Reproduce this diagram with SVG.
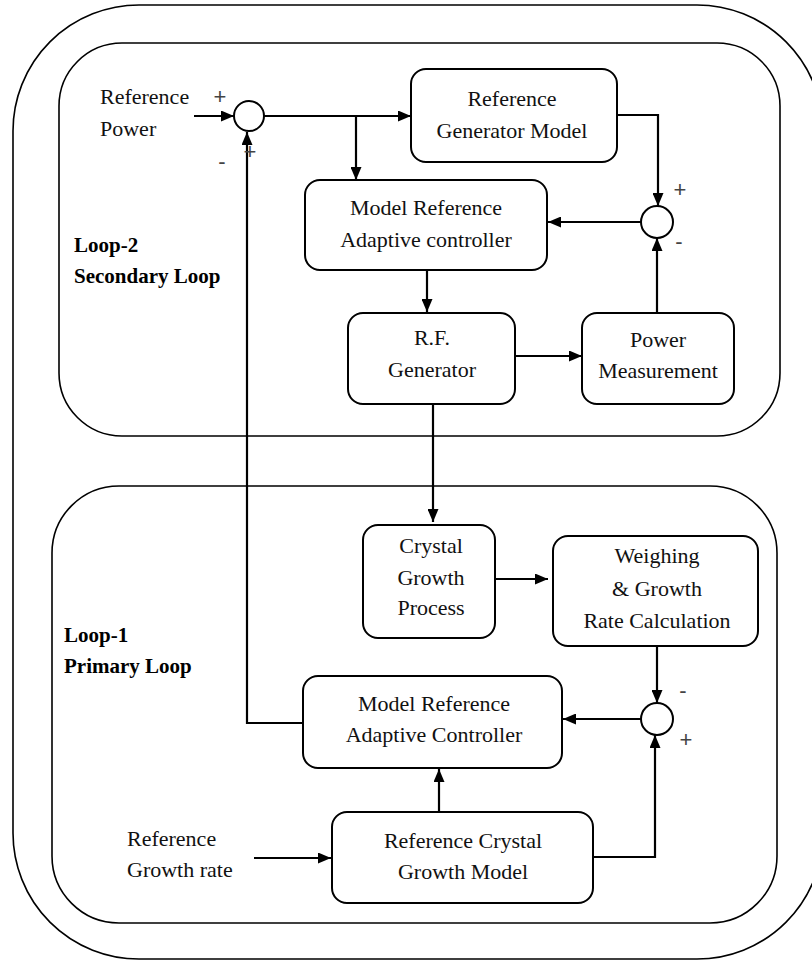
<svg xmlns="http://www.w3.org/2000/svg" width="812" height="961" viewBox="0 0 812 961">
  <style>
    .frame { fill: none; stroke: #000; stroke-width: 1.6; }
    .box { fill: #fff; stroke: #000; stroke-width: 2; }
    .sum { fill: #fff; stroke: #000; stroke-width: 2; }
    .wire { fill: none; stroke: #000; stroke-width: 2.2; }
    .lbl { font-family: "Liberation Serif", "Times New Roman", serif; font-size: 22px; fill: #111; }
    .mid { text-anchor: middle; }
    .loop { font-family: "Liberation Serif", "Times New Roman", serif; font-size: 21px; font-weight: bold; fill: #000; }
    .sign { font-family: "Liberation Sans", Arial, sans-serif; font-size: 22px; fill: #444444; text-anchor: middle; }
  </style>
  <defs>
    <marker id="arrow" markerUnits="userSpaceOnUse" markerWidth="13" markerHeight="11" refX="13" refY="5.5" orient="auto">
      <path d="M0,0 L13,5.5 L0,11 z" fill="#000"/>
    </marker>
  </defs>

  <rect width="812" height="961" fill="#fff"/>

  <!-- enclosing frames -->
  <g id="outer-frame">
    <rect class="frame" x="13" y="5" width="810" height="954" rx="126" ry="126"/>
  </g>
  <g id="secondary-loop">
    <rect class="frame" x="59" y="43" width="721" height="393" rx="63" ry="63"/>
    <text class="loop" x="74" y="252">Loop-2</text>
    <text class="loop" x="74" y="283">Secondary Loop</text>
  </g>
  <g id="primary-loop">
    <rect class="frame" x="52" y="486" width="725" height="437" rx="67" ry="67"/>
    <text class="loop" x="64" y="642">Loop-1</text>
    <text class="loop" x="64" y="673">Primary Loop</text>
  </g>

  <!-- connectors -->
  <g id="connectors">
    <line class="wire" x1="194" y1="116" x2="234" y2="116" marker-end="url(#arrow)"/>
    <line class="wire" x1="264" y1="116" x2="411" y2="116" marker-end="url(#arrow)"/>
    <line class="wire" x1="356" y1="116" x2="356" y2="180" marker-end="url(#arrow)"/>
    <polyline class="wire" points="617,115 658,115 658,206" marker-end="url(#arrow)"/>
    <line class="wire" x1="641" y1="222" x2="548" y2="222" marker-end="url(#arrow)"/>
    <line class="wire" x1="657" y1="313" x2="657" y2="238" marker-end="url(#arrow)"/>
    <line class="wire" x1="427" y1="270" x2="427" y2="312" marker-end="url(#arrow)"/>
    <line class="wire" x1="515" y1="356" x2="582" y2="356" marker-end="url(#arrow)"/>
    <line class="wire" x1="433" y1="404" x2="433" y2="522" marker-end="url(#arrow)"/>
    <line class="wire" x1="495" y1="579" x2="548" y2="579" marker-end="url(#arrow)"/>
    <line class="wire" x1="657" y1="646" x2="657" y2="703" marker-end="url(#arrow)"/>
    <line class="wire" x1="641" y1="719" x2="563" y2="719" marker-end="url(#arrow)"/>
    <polyline class="wire" points="593,857 655,857 655,735" marker-end="url(#arrow)"/>
    <line class="wire" x1="439" y1="812" x2="439" y2="769" marker-end="url(#arrow)"/>
    <line class="wire" x1="254" y1="858" x2="331" y2="858" marker-end="url(#arrow)"/>
    <polyline class="wire" points="303,723 247,723 247,132" marker-end="url(#arrow)"/>
  </g>

  <!-- summing junctions -->
  <g id="sum-power">
    <circle class="sum" cx="249" cy="116" r="15"/>
    <text class="sign" x="220" y="104">+</text>
    <text class="sign" x="222" y="169">-</text>
    <text class="sign" x="250" y="159">+</text>
  </g>
  <g id="sum-model">
    <circle class="sum" cx="657" cy="222" r="16"/>
    <text class="sign" x="680" y="197">+</text>
    <text class="sign" x="679" y="249">-</text>
  </g>
  <g id="sum-growth">
    <circle class="sum" cx="657" cy="719" r="16"/>
    <text class="sign" x="683" y="698">-</text>
    <text class="sign" x="686" y="747">+</text>
  </g>

  <!-- inputs -->
  <g id="input-power">
    <text class="lbl" x="100" y="104">Reference</text>
    <text class="lbl" x="100" y="136">Power</text>
  </g>
  <g id="input-growth">
    <text class="lbl" x="127" y="846">Reference</text>
    <text class="lbl" x="127" y="877">Growth rate</text>
  </g>

  <!-- blocks -->
  <g id="ref-generator-model">
    <rect class="box" x="411" y="69" width="206" height="93" rx="15"/>
    <text class="lbl mid" x="512" y="106">Reference</text>
    <text class="lbl mid" x="512" y="138">Generator Model</text>
  </g>
  <g id="mrac-power">
    <rect class="box" x="305" y="180" width="242" height="90" rx="15"/>
    <text class="lbl mid" x="426" y="215">Model Reference</text>
    <text class="lbl mid" x="426" y="247">Adaptive controller</text>
  </g>
  <g id="rf-generator">
    <rect class="box" x="348" y="313" width="167" height="91" rx="15"/>
    <text class="lbl mid" x="432" y="345">R.F.</text>
    <text class="lbl mid" x="432" y="377">Generator</text>
  </g>
  <g id="power-measurement">
    <rect class="box" x="582" y="313" width="152" height="91" rx="15"/>
    <text class="lbl mid" x="658" y="347">Power</text>
    <text class="lbl mid" x="658" y="378">Measurement</text>
  </g>
  <g id="crystal-growth-process">
    <rect class="box" x="363" y="525" width="132" height="113" rx="15"/>
    <text class="lbl mid" x="431" y="553">Crystal</text>
    <text class="lbl mid" x="431" y="585">Growth</text>
    <text class="lbl mid" x="431" y="615">Process</text>
  </g>
  <g id="weighing">
    <rect class="box" x="553" y="536" width="205" height="110" rx="15"/>
    <text class="lbl mid" x="657" y="563">Weighing</text>
    <text class="lbl mid" x="657" y="596">&amp; Growth</text>
    <text class="lbl mid" x="657" y="628">Rate Calculation</text>
  </g>
  <g id="mrac-growth">
    <rect class="box" x="303" y="676" width="259" height="92" rx="15"/>
    <text class="lbl mid" x="434" y="711">Model Reference</text>
    <text class="lbl mid" x="434" y="742">Adaptive Controller</text>
  </g>
  <g id="ref-crystal-growth-model">
    <rect class="box" x="332" y="812" width="261" height="91" rx="15"/>
    <text class="lbl mid" x="463" y="848">Reference Crystal</text>
    <text class="lbl mid" x="463" y="879">Growth Model</text>
  </g>
</svg>
